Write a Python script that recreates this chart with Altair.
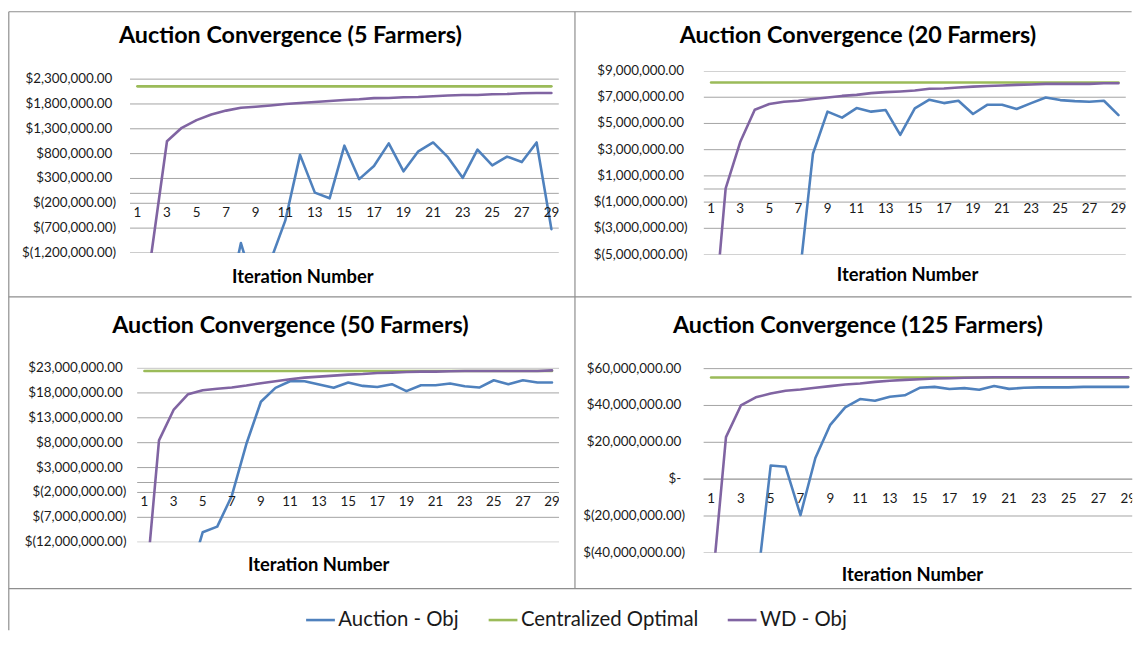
import altair as alt
import pandas as pd

FONT = "Lato"
M = 1_000_000
ITER = list(range(1, 30))
SERIES = ["Auction - Obj", "Centralized Optimal", "WD - Obj"]
COLORS = ["#4F81BD", "#9BBB59", "#8064A2"]

TITLES = ["Auction Convergence (5 Farmers)", "Auction Convergence (20 Farmers)",
          "Auction Convergence (50 Farmers)", "Auction Convergence (125 Farmers)"]
X_TITLE = "Iteration Number"
X_TICKS = list(range(1, 30, 2))
X_TICK_LABELS = [str(i) for i in X_TICKS]

# ---- values in millions of dollars ----
AUCTION_5 = [-4.8, -4.1, -3.6, -3.3, -3.0, -2.8, -2.4, -1.0, -2.0, -1.36, -0.55, 0.775,
             0.015, -0.1, 0.96, 0.286, 0.55, 1.006, 0.444, 0.847, 1.025, 0.728, 0.312,
             0.88, 0.563, 0.74, 0.63, 1.025, -0.72]
WD_5 = [-3.2, -1.1, 1.05, 1.32, 1.475, 1.587, 1.666, 1.725, 1.745, 1.77, 1.80, 1.82,
        1.84, 1.86, 1.88, 1.895, 1.917, 1.92, 1.935, 1.94, 1.955, 1.97, 1.98, 1.98,
        1.996, 2.0, 2.016, 2.02, 2.02]
CENTRAL_5 = 2.155
Y_TICKS_5 = [2.3, 1.8, 1.3, 0.8, 0.3, -0.2, -0.7, -1.2]
Y_LABELS_5 = ["$2,300,000.00", "$1,800,000.00", "$1,300,000.00", "$800,000.00",
              "$300,000.00", "$(200,000.00)", "$(700,000.00)", "$(1,200,000.00)"]

AUCTION_20 = [-22, -19, -16, -14, -12, -10, -7.47, 2.69, 5.9, 5.44, 6.17, 5.9, 6.02,
              4.13, 6.15, 6.81, 6.55, 6.73, 5.72, 6.43, 6.43, 6.1, 6.55, 6.98, 6.78,
              6.7, 6.65, 6.73, 5.64]
WD_20 = [-12.6, 0.05, 3.58, 6.05, 6.48, 6.65, 6.73, 6.86, 6.98, 7.1, 7.18, 7.31, 7.39,
         7.44, 7.51, 7.64, 7.66, 7.74, 7.81, 7.86, 7.89, 7.94, 7.97, 8.02, 8.02, 8.02,
         8.02, 8.07, 8.07]
CENTRAL_20 = 8.12
Y_TICKS_20 = [9, 7, 5, 3, 1, -1, -3, -5]
Y_LABELS_20 = ["$9,000,000.00", "$7,000,000.00", "$5,000,000.00", "$3,000,000.00",
               "$1,000,000.00", "$(1,000,000.00)", "$(3,000,000.00)", "$(5,000,000.00)"]

AUCTION_50 = [-40, -35, -28, -20, -10.0, -8.87, -2.7, 7.73, 16.23, 19.02, 20.34, 20.34,
              19.68, 19.02, 20.08, 19.41, 19.2, 19.75, 18.35, 19.55, 19.55, 19.88,
              19.35, 19.08, 20.54, 19.75, 20.54, 20.08, 20.08]
WD_50 = [-24.3, 8.46, 14.57, 17.75, 18.55, 18.82, 19.08, 19.48, 19.95, 20.34, 20.74,
         21.07, 21.27, 21.47, 21.67, 21.8, 22.0, 22.07, 22.2, 22.27, 22.27, 22.34, 22.4,
         22.4, 22.4, 22.4, 22.4, 22.4, 22.53]
CENTRAL_50 = 22.4
Y_TICKS_50 = [23, 18, 13, 8, 3, -2, -7, -12]
Y_LABELS_50 = ["$23,000,000.00", "$18,000,000.00", "$13,000,000.00", "$8,000,000.00",
               "$3,000,000.00", "$(2,000,000.00)", "$(7,000,000.00)", "$(12,000,000.00)"]

AUCTION_125 = [-120, -105, -90, -63.7, 7.4, 6.7, -19.5, 11.5, 29.5, 39, 43.5, 42.6,
               44.7, 45.5, 49.6, 50.1, 48.9, 49.4, 48.5, 50.6, 49.0, 49.6, 49.8, 49.8,
               49.8, 50.1, 50.1, 50.1, 50.1]
WD_125 = [-65, 22.8, 40, 44.4, 46.5, 48, 48.7, 49.6, 50.5, 51.4, 51.9, 52.8, 53.4, 53.9,
          54.25, 54.6, 54.8, 55.0, 55.15, 55.3, 55.3, 55.3, 55.3, 55.3, 55.3, 55.3,
          55.3, 55.3, 55.3]
CENTRAL_125 = 55.2
Y_TICKS_125 = [60, 40, 20, 0, -20, -40]
Y_LABELS_125 = ["$60,000,000.00", "$40,000,000.00", "$20,000,000.00", "$-",
                "$(20,000,000.00)", "$(40,000,000.00)"]

GRID = "#A3A3A3"
BORDER = "#8E8E8E"
TXT = "#1A1A1A"
TICK_FS = 13.5
TITLE_FS = 23.5
AXIS_TITLE_FS = 18.5

# layout (page coordinates of the 1141x646 picture)
COL_X = [130.8, 706.5]
COL_W = [432.5, 434.0]
ROW_Y = [68.3, 367.5]

GEO = [
    dict(left=130.8, right=563.0, top=76.5, bottom=251.7, pos=113.0, neg=116.7,
         tx=292.5, ty=40, ax=305, ay=282),
    dict(left=708.7, right=1134.0, top=68.3, bottom=253.3, pos=688.7, neg=692.4,
         tx=864, ty=40, ax=914, ay=280),
    dict(left=138.0, right=563.5, top=367.7, bottom=543.3, pos=123.5, neg=127.2,
         tx=292.5, ty=332, ax=321, ay=572),
    dict(left=708.5, right=1144.0, top=368.3, bottom=554.0, pos=686.0, neg=689.7,
         tx=864, ty=332, ax=919, ay=582),
]

LEGEND = alt.Legend(title=None, orient="none", legendX=306.8 - COL_X[0],
                    legendY=620 - 14.5 - ROW_Y[0], direction="horizontal",
                    symbolType="stroke", symbolSize=841, symbolStrokeWidth=2.6,
                    labelFont=FONT, labelFontSize=20.5, labelColor=TXT, labelLimit=400,
                    columnPadding=24, labelOffset=2, padding=0)


def build_panel(auction, wd, central, yticks, ylabels, title, g, ox, oy, width, extra=()):
    height = g["bottom"] - oy
    xs = alt.Scale(domain=[0.5, 29.5], range=[g["left"] - ox, g["right"] - ox],
                   nice=False, zero=False)
    ys = alt.Scale(domain=[min(yticks) * M, max(yticks) * M],
                   range=[g["bottom"] - oy, g["top"] - oy], nice=False, zero=False)
    lines = pd.DataFrame({
        "iter": ITER * 3,
        "value": [v * M for v in auction] + [central * M] * 29 + [v * M for v in wd],
        "series": [SERIES[0]] * 29 + [SERIES[1]] * 29 + [SERIES[2]] * 29,
    })
    grid = alt.Chart(pd.DataFrame({"v": [t * M for t in yticks] + [0]})).mark_rule(
        color=GRID, strokeWidth=1, clip=True).encode(
        y=alt.Y("v:Q", scale=ys, axis=None),
        x=alt.value(g["left"] - ox), x2=alt.value(g["right"] - ox))
    line = alt.Chart(lines).mark_line(clip=True, strokeWidth=2.6, strokeJoin="round",
                                      strokeCap="round").encode(
        x=alt.X("iter:Q", scale=xs, axis=None),
        y=alt.Y("value:Q", scale=ys, axis=None),
        color=alt.Color("series:N", scale=alt.Scale(domain=SERIES, range=COLORS),
                        legend=LEGEND))
    lab = pd.DataFrame({"v": [t * M for t in yticks], "label": ylabels})
    is_neg = lab["label"].str.startswith("$(")
    pos_lab = alt.Chart(lab[~is_neg]).mark_text(
        align="right", baseline="middle", font=FONT, fontSize=TICK_FS, color=TXT).encode(
        y=alt.Y("v:Q", scale=ys, axis=None), x=alt.value(g["pos"] - ox), text="label:N")
    neg_lab = alt.Chart(lab[is_neg]).mark_text(
        align="right", baseline="middle", font=FONT, fontSize=TICK_FS, color=TXT).encode(
        y=alt.Y("v:Q", scale=ys, axis=None), x=alt.value(g["neg"] - ox), text="label:N")
    xl = alt.Chart(pd.DataFrame({"iter": X_TICKS, "label": X_TICK_LABELS})).transform_calculate(
        z="0").mark_text(align="center", baseline="middle", dy=20, clip=True, font=FONT,
                         fontSize=TICK_FS, color=TXT).encode(
        x=alt.X("iter:Q", scale=xs, axis=None), y=alt.Y("z:Q", scale=ys, axis=None),
        text="label:N")
    tt = alt.Chart(pd.DataFrame({"t": [title]})).mark_text(
        align="center", baseline="alphabetic", font=FONT, fontSize=TITLE_FS,
        fontWeight="bold", color="#000000").encode(
        x=alt.value(g["tx"] - ox), y=alt.value(g["ty"] - oy), text="t:N")
    at = alt.Chart(pd.DataFrame({"t": [X_TITLE]})).mark_text(
        align="center", baseline="alphabetic", font=FONT, fontSize=AXIS_TITLE_FS,
        fontWeight="bold", color="#000000").encode(
        x=alt.value(g["ax"] - ox), y=alt.value(g["ay"] - oy), text="t:N")
    return alt.layer(grid, line, pos_lab, neg_lab, xl, tt, at, *extra).properties(
        width=width, height=height)


def hrule(x1, x2, y, ox, oy):
    return alt.Chart(pd.DataFrame({"a": [0]})).mark_rule(color=BORDER, strokeWidth=1.2).encode(
        x=alt.value(x1 - ox), x2=alt.value(x2 - ox), y=alt.value(y - oy))


def vrule(x, y1, y2, ox, oy):
    return alt.Chart(pd.DataFrame({"a": [0]})).mark_rule(color=BORDER, strokeWidth=1.2).encode(
        x=alt.value(x - ox), y=alt.value(y1 - oy), y2=alt.value(y2 - oy))


ox0, oy0 = COL_X[0], ROW_Y[0]
EDGE = 8.6
RIGHT = 1140.4
borders = [
    vrule(EDGE, EDGE, 632, ox0, oy0),
    hrule(EDGE, RIGHT, EDGE, ox0, oy0),
    vrule(579.3, EDGE, 590, ox0, oy0),
    hrule(EDGE, RIGHT, 296, ox0, oy0),
    hrule(EDGE, RIGHT, 590, ox0, oy0),
]

p1 = build_panel(AUCTION_5, WD_5, CENTRAL_5, Y_TICKS_5, Y_LABELS_5, TITLES[0], GEO[0],
                 COL_X[0], ROW_Y[0], COL_W[0], borders)
p2 = build_panel(AUCTION_20, WD_20, CENTRAL_20, Y_TICKS_20, Y_LABELS_20, TITLES[1], GEO[1],
                 COL_X[1], ROW_Y[0], COL_W[1])
p3 = build_panel(AUCTION_50, WD_50, CENTRAL_50, Y_TICKS_50, Y_LABELS_50, TITLES[2], GEO[2],
                 COL_X[0], ROW_Y[1], COL_W[0])
p4 = build_panel(AUCTION_125, WD_125, CENTRAL_125, Y_TICKS_125, Y_LABELS_125, TITLES[3],
                 GEO[3], COL_X[1], ROW_Y[1], COL_W[1])

row1_h = max(GEO[0]["bottom"], GEO[1]["bottom"]) - ROW_Y[0]
chart = alt.concat(
    p1, p2, p3, p4, columns=2, bounds="flush", align="each",
    spacing={"row": ROW_Y[1] - ROW_Y[0] - row1_h, "column": COL_X[1] - (COL_X[0] + COL_W[0])},
).configure_view(stroke=None).properties(padding=0, autosize=alt.AutoSizeParams(type="pad"))

chart.save("out.html", embed_options={"renderer": "svg", "actions": False})
